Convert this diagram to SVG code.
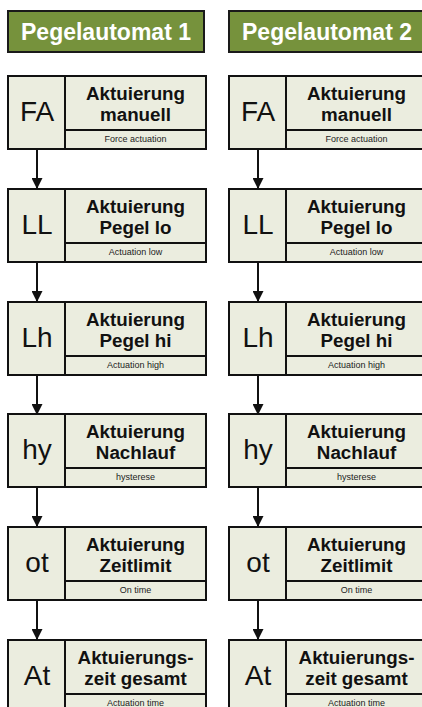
<svg xmlns="http://www.w3.org/2000/svg" width="422" height="707" viewBox="0 0 422 707">
<style>
.hdr{fill:#76923C;stroke:#1a1a1a;stroke-width:2}
.hdrt{font-family:"Liberation Sans",Arial,sans-serif;font-weight:bold;font-size:23px;fill:#fff;text-anchor:middle}
.box{fill:#EBEDDF;stroke:#111;stroke-width:2}
.ln{stroke:#111;stroke-width:2;fill:none}
.code{font-family:"Liberation Sans",Arial,sans-serif;font-size:28px;fill:#111;text-anchor:middle}
.ttl{font-family:"Liberation Sans",Arial,sans-serif;font-weight:bold;font-size:18.8px;fill:#111;text-anchor:middle}
.sub{font-family:"Liberation Sans",Arial,sans-serif;font-size:9px;fill:#222;text-anchor:middle}
.arr{stroke:#111;stroke-width:2;fill:none}
</style>
<defs>
<marker id="ah" viewBox="0 0 11 11" refX="11" refY="5.5" markerWidth="11" markerHeight="11" markerUnits="userSpaceOnUse" orient="auto">
<path d="M0,0 L11,5.5 L0,11 Z" fill="#111"/>
</marker>
<g id="cell">
<rect class="box" x="0" y="0" width="198" height="73"/>
<line class="ln" x1="57" y1="0" x2="57" y2="73"/>
<line class="ln" x1="57" y1="54" x2="198" y2="54"/>
</g>
</defs>

<g id="header1">
<rect class="hdr" x="8" y="11" width="196" height="41"/>
<text class="hdrt" x="106" y="40">Pegelautomat 1</text>
</g>
<g id="header2">
<rect class="hdr" x="229" y="11" width="196" height="41"/>
<text class="hdrt" x="327" y="40">Pegelautomat 2</text>
</g>

<g id="connectors">
<line class="arr" x1="37" y1="149" x2="37" y2="189" marker-end="url(#ah)"/>
<line class="arr" x1="37" y1="262" x2="37" y2="302" marker-end="url(#ah)"/>
<line class="arr" x1="37" y1="375" x2="37" y2="415" marker-end="url(#ah)"/>
<line class="arr" x1="37" y1="487" x2="37" y2="527" marker-end="url(#ah)"/>
<line class="arr" x1="37" y1="600" x2="37" y2="640" marker-end="url(#ah)"/>
<line class="arr" x1="258" y1="149" x2="258" y2="189" marker-end="url(#ah)"/>
<line class="arr" x1="258" y1="262" x2="258" y2="302" marker-end="url(#ah)"/>
<line class="arr" x1="258" y1="375" x2="258" y2="415" marker-end="url(#ah)"/>
<line class="arr" x1="258" y1="487" x2="258" y2="527" marker-end="url(#ah)"/>
<line class="arr" x1="258" y1="600" x2="258" y2="640" marker-end="url(#ah)"/>
</g>

<g id="p1-FA" transform="translate(8,76)">
<use href="#cell"/>
<text class="code" x="29" y="45">FA</text>
<text class="ttl" x="127.5" y="24">Aktuierung</text>
<text class="ttl" x="127.5" y="45">manuell</text>
<text class="sub" x="127.5" y="66">Force actuation</text>
</g>
<g id="p1-LL" transform="translate(8,189)">
<use href="#cell"/>
<text class="code" x="29" y="45">LL</text>
<text class="ttl" x="127.5" y="24">Aktuierung</text>
<text class="ttl" x="127.5" y="45">Pegel lo</text>
<text class="sub" x="127.5" y="66">Actuation low</text>
</g>
<g id="p1-Lh" transform="translate(8,302)">
<use href="#cell"/>
<text class="code" x="29" y="45">Lh</text>
<text class="ttl" x="127.5" y="24">Aktuierung</text>
<text class="ttl" x="127.5" y="45">Pegel hi</text>
<text class="sub" x="127.5" y="66">Actuation high</text>
</g>
<g id="p1-hy" transform="translate(8,414)">
<use href="#cell"/>
<text class="code" x="29" y="45">hy</text>
<text class="ttl" x="127.5" y="24">Aktuierung</text>
<text class="ttl" x="127.5" y="45">Nachlauf</text>
<text class="sub" x="127.5" y="66">hysterese</text>
</g>
<g id="p1-ot" transform="translate(8,527)">
<use href="#cell"/>
<text class="code" x="29" y="45">ot</text>
<text class="ttl" x="127.5" y="24">Aktuierung</text>
<text class="ttl" x="127.5" y="45">Zeitlimit</text>
<text class="sub" x="127.5" y="66">On time</text>
</g>
<g id="p1-At" transform="translate(8,640)">
<use href="#cell"/>
<text class="code" x="29" y="45">At</text>
<text class="ttl" x="127.5" y="24">Aktuierungs-</text>
<text class="ttl" x="127.5" y="45">zeit gesamt</text>
<text class="sub" x="127.5" y="66">Actuation time</text>
</g>

<g id="p2-FA" transform="translate(229,76)">
<use href="#cell"/>
<text class="code" x="29" y="45">FA</text>
<text class="ttl" x="127.5" y="24">Aktuierung</text>
<text class="ttl" x="127.5" y="45">manuell</text>
<text class="sub" x="127.5" y="66">Force actuation</text>
</g>
<g id="p2-LL" transform="translate(229,189)">
<use href="#cell"/>
<text class="code" x="29" y="45">LL</text>
<text class="ttl" x="127.5" y="24">Aktuierung</text>
<text class="ttl" x="127.5" y="45">Pegel lo</text>
<text class="sub" x="127.5" y="66">Actuation low</text>
</g>
<g id="p2-Lh" transform="translate(229,302)">
<use href="#cell"/>
<text class="code" x="29" y="45">Lh</text>
<text class="ttl" x="127.5" y="24">Aktuierung</text>
<text class="ttl" x="127.5" y="45">Pegel hi</text>
<text class="sub" x="127.5" y="66">Actuation high</text>
</g>
<g id="p2-hy" transform="translate(229,414)">
<use href="#cell"/>
<text class="code" x="29" y="45">hy</text>
<text class="ttl" x="127.5" y="24">Aktuierung</text>
<text class="ttl" x="127.5" y="45">Nachlauf</text>
<text class="sub" x="127.5" y="66">hysterese</text>
</g>
<g id="p2-ot" transform="translate(229,527)">
<use href="#cell"/>
<text class="code" x="29" y="45">ot</text>
<text class="ttl" x="127.5" y="24">Aktuierung</text>
<text class="ttl" x="127.5" y="45">Zeitlimit</text>
<text class="sub" x="127.5" y="66">On time</text>
</g>
<g id="p2-At" transform="translate(229,640)">
<use href="#cell"/>
<text class="code" x="29" y="45">At</text>
<text class="ttl" x="127.5" y="24">Aktuierungs-</text>
<text class="ttl" x="127.5" y="45">zeit gesamt</text>
<text class="sub" x="127.5" y="66">Actuation time</text>
</g>
</svg>
